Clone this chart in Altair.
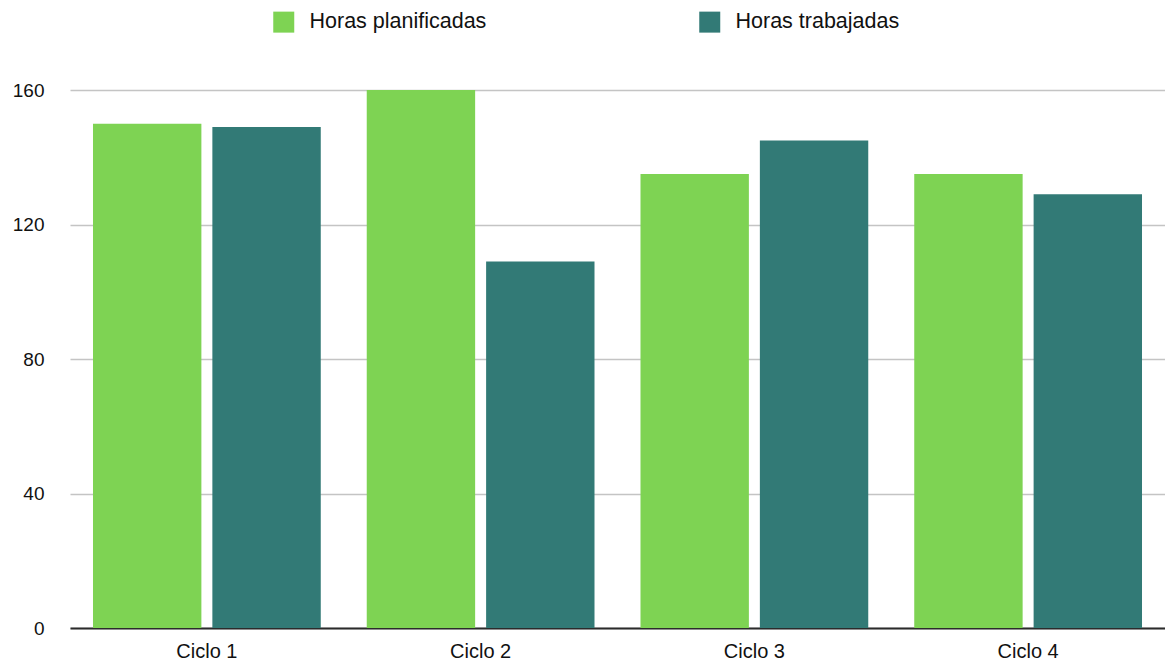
import altair as alt
import pandas as pd

ciclos = ["Ciclo 1", "Ciclo 2", "Ciclo 3", "Ciclo 4"]
series = ["Horas planificadas", "Horas trabajadas"]
planificadas = [150, 160, 135, 135]
trabajadas = [149, 109, 145, 129]
colors = ["#7ED353", "#327A76"]
y_ticks = [0, 40, 80, 120, 160]

rows = []
for c, p, t in zip(ciclos, planificadas, trabajadas):
    rows.append({"ciclo": c, "serie": series[0], "horas": p})
    rows.append({"ciclo": c, "serie": series[1], "horas": t})
df = pd.DataFrame(rows)

FONT = "Liberation Sans"

chart = (
    alt.Chart(df)
    .mark_bar()
    .encode(
        x=alt.X(
            "ciclo:N",
            sort=ciclos,
            title=None,
            scale=alt.Scale(paddingInner=0.168, paddingOuter=0.084),
            axis=alt.Axis(
                labelAngle=0,
                labelFontSize=20,
                labelFont=FONT,
                labelColor="#111111",
                labelPadding=13,
                ticks=False,
                domainColor="#2b2b2b",
                domainWidth=2,
                grid=False,
            ),
        ),
        xOffset=alt.XOffset(
            "serie:N", sort=series, scale=alt.Scale(paddingInner=0.092)
        ),
        y=alt.Y(
            "horas:Q",
            title=None,
            scale=alt.Scale(domain=[0, 160], nice=False),
            axis=alt.Axis(
                values=y_ticks,
                labelFontSize=19,
                labelFont=FONT,
                labelColor="#111111",
                labelPadding=26,
                ticks=False,
                domain=False,
                gridColor="#c4c4c4",
                gridWidth=1.5,
            ),
        ),
        color=alt.Color(
            "serie:N",
            sort=series,
            scale=alt.Scale(domain=series, range=colors),
            legend=alt.Legend(
                title=None,
                orient="none",
                direction="horizontal",
                legendX=203,
                legendY=-79,
                symbolType="square",
                symbolSize=441,
                symbolStrokeWidth=0,
                symbolOpacity=1,
                labelFontSize=21.5,
                labelFont=FONT,
                labelColor="#111111",
                labelOffset=15,
                columnPadding=212,
                labelLimit=400,
            ),
        ),
    )
    .properties(
        width=1095,
        height=538,
        padding={"left": 70, "top": 90, "right": 0, "bottom": 35},
        autosize=alt.AutoSizeParams(type="none"),
    )
    .configure_view(stroke=None)
)

chart.save("out.html", embed_options={"renderer": "svg", "actions": False})
